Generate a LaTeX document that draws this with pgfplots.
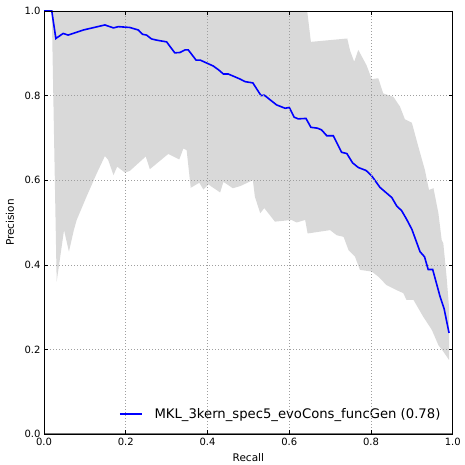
\documentclass[border=0pt]{standalone}
\usepackage{pgfplots}
\pgfplotsset{compat=1.18}
\usepgfplotslibrary{fillbetween}
\usepackage{fontspec}
\setmainfont{DejaVu Sans}

\definecolor{band}{RGB}{217,217,217}
\definecolor{spine}{RGB}{120,120,120}

% mean precision-recall curve
\pgfplotstableread{
x y
0.000 1.000
0.019 1.000
0.029 0.935
0.047 0.947
0.059 0.943
0.096 0.955
0.149 0.967
0.170 0.960
0.182 0.963
0.210 0.961
0.231 0.955
0.241 0.945
0.251 0.943
0.263 0.934
0.276 0.931
0.300 0.927
0.320 0.901
0.333 0.902
0.345 0.908
0.353 0.908
0.372 0.884
0.382 0.884
0.414 0.870
0.427 0.861
0.439 0.851
0.451 0.851
0.480 0.839
0.492 0.833
0.511 0.830
0.531 0.800
0.539 0.801
0.569 0.778
0.590 0.770
0.600 0.772
0.612 0.749
0.622 0.745
0.641 0.746
0.653 0.725
0.669 0.723
0.679 0.719
0.692 0.705
0.708 0.705
0.728 0.666
0.741 0.663
0.755 0.641
0.769 0.630
0.788 0.623
0.802 0.610
0.822 0.583
0.851 0.559
0.863 0.539
0.875 0.528
0.887 0.508
0.900 0.484
0.908 0.463
0.920 0.431
0.931 0.419
0.940 0.389
0.951 0.389
0.969 0.325
0.979 0.296
0.991 0.239
}\meancurve

% upper edge of band
\pgfplotstableread{
x y
0.019 1.000
0.644 1.000
0.653 0.927
0.742 0.935
0.749 0.906
0.759 0.880
0.769 0.908
0.789 0.872
0.802 0.839
0.818 0.841
0.830 0.805
0.855 0.797
0.871 0.774
0.883 0.744
0.900 0.736
0.916 0.679
0.932 0.624
0.942 0.577
0.953 0.581
0.965 0.522
0.973 0.459
0.977 0.451
0.985 0.372
0.991 0.300
}\upperband

% lower edge of band
\pgfplotstableread{
x y
0.019 1.000
0.031 0.360
0.049 0.482
0.061 0.431
0.073 0.482
0.080 0.506
0.104 0.561
0.129 0.616
0.149 0.657
0.157 0.648
0.170 0.612
0.179 0.632
0.198 0.618
0.210 0.622
0.249 0.656
0.259 0.626
0.304 0.662
0.331 0.649
0.341 0.675
0.349 0.671
0.359 0.582
0.380 0.594
0.390 0.578
0.402 0.590
0.431 0.571
0.439 0.596
0.462 0.581
0.480 0.586
0.511 0.600
0.516 0.561
0.529 0.522
0.539 0.534
0.565 0.502
0.606 0.506
0.618 0.500
0.639 0.506
0.645 0.474
0.700 0.482
0.716 0.470
0.733 0.466
0.745 0.435
0.761 0.419
0.773 0.388
0.802 0.384
0.818 0.372
0.838 0.352
0.863 0.340
0.879 0.333
0.887 0.317
0.904 0.317
0.928 0.277
0.949 0.246
0.965 0.210
0.977 0.195
0.991 0.175
}\lowerband

\begin{document}
\begin{tikzpicture}
\begin{axis}[
    at={(0,0)}, anchor=south west,
    scale only axis, width=408.7pt, height=423pt,
    xmin=0, xmax=1, ymin=0, ymax=1,
    xtick={0,0.2,0.4,0.6,0.8,1.0},
    ytick={0,0.2,0.4,0.6,0.8,1.0},
    tick label style={font=\fontsize{10}{12}\selectfont,
        /pgf/number format/assume math mode=true,
        /pgf/number format/fixed, /pgf/number format/fixed zerofill,
        /pgf/number format/precision=1},
    xticklabel style={yshift=-1pt},
    tick align=inside, major tick length=4pt,
    tick style={black, line width=0.5pt},
    grid=major,
    grid style={dash pattern=on 0.8pt off 2.2pt, gray!75, line width=0.5pt},
    axis line style={black, line width=0.8pt},
    axis on top,
    every axis x label/.style={at={(rel axis cs:0.5,0)}, yshift=-24pt, anchor=center},
    every axis y label/.style={at={(rel axis cs:0,0.5)}, xshift=-34pt, rotate=90, anchor=center},
    label style={font=\fontsize{10.5}{12}\selectfont},
    xlabel={Recall}, ylabel={Precision},
    legend style={at={(axis cs:0.579,0.047)}, anchor=center, draw=none, fill=none,
        font=\fontsize{13.2}{15}\selectfont},
    legend image code/.code={\draw[#1, line width=1.8pt] (0pt,0pt) -- (22pt,0pt); \path (32pt,0pt);},
    legend cell align=left,
]
\addplot[draw=none, name path=up, forget plot] table {\upperband};
\addplot[draw=none, name path=lo, forget plot] table {\lowerband};
\addplot[band, forget plot] fill between[of=up and lo];
\addplot[blue, line width=1.6pt] table {\meancurve};
\addlegendentry{MKL\_3kern\_spec5\_evoCons\_funcGen (0.78)}
\draw[spine, line width=2pt] (rel axis cs:0,1) -- (rel axis cs:0,0) -- (rel axis cs:1,0);
\end{axis}
\pgfresetboundingbox
\useasboundingbox (-44pt,-31pt) rectangle (420.7pt,434pt);
\end{tikzpicture}
\end{document}
